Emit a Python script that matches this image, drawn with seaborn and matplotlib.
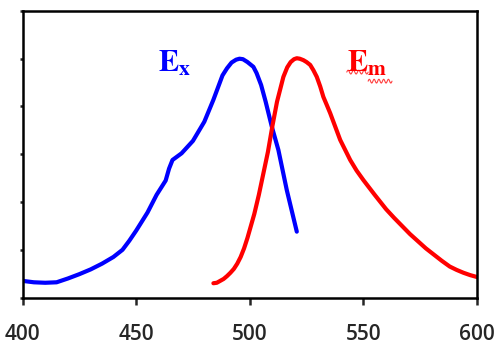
import numpy as np
import pandas as pd
import matplotlib
matplotlib.use('Agg')
import matplotlib.pyplot as plt
import seaborn as sns

# excitation spectrum (blue)
ex_wl = [400, 405, 410, 415, 420, 425, 430, 435, 440, 444, 447, 450, 455, 459, 461, 463, 464.5, 466,
         468, 470, 475, 480, 484, 488, 490, 492, 494, 495.5, 497, 499, 501.6, 503, 505, 507,
         509.7, 512.6, 516.3, 520.7]
ex_int = [0.35, 0.32, 0.31, 0.32, 0.40, 0.49, 0.59, 0.71, 0.85, 1.0, 1.19, 1.40, 1.78, 2.15, 2.30, 2.45, 2.70, 2.88,
          2.95, 3.02, 3.28, 3.68, 4.14, 4.65, 4.80, 4.92, 4.98, 5.0, 4.99, 4.93, 4.83, 4.70, 4.45, 4.10,
          3.58, 3.09, 2.25, 1.38]

# emission spectrum (red)
em_wl = [484, 485.5, 487, 488.5, 490, 491.5, 493, 494.5, 496, 497.5, 499, 500.5, 502, 504, 506, 508, 510,
         512, 514.8, 516.5, 518, 519.5, 520.7, 522, 523.6, 525, 526.6, 528, 529.5, 531, 532.4, 534,
         535.4, 539.8, 544.2, 547, 550, 555, 560, 563.5, 567, 570.5, 574, 577.5, 581, 584.5, 588,
         591, 594, 597, 600]
em_int = [0.30, 0.31, 0.35, 0.39, 0.45, 0.52, 0.60, 0.71, 0.85, 1.03, 1.25, 1.50, 1.75, 2.15, 2.6, 3.05, 3.6,
          4.1, 4.62, 4.82, 4.93, 4.99, 5.01, 5.0, 4.97, 4.93, 4.87, 4.76, 4.62, 4.42, 4.2, 4.02,
          3.86, 3.3, 2.88, 2.66, 2.46, 2.15, 1.85, 1.67, 1.5, 1.33, 1.18, 1.03, 0.9, 0.77, 0.65,
          0.58, 0.52, 0.47, 0.43]

x_ticks = [400, 450, 500, 550, 600]

sns.set_style('ticks')
plt.rcParams['mathtext.fontset'] = 'stix'

fig = plt.figure(figsize=(5, 3.53), dpi=100)
ax = fig.add_axes([0.045, 0.157, 0.909, 0.812])

df_ex = pd.DataFrame({'wl': ex_wl, 'val': ex_int})
df_em = pd.DataFrame({'wl': em_wl, 'val': em_int})
sns.lineplot(data=df_ex, x='wl', y='val', color='#0000ff', lw=3, ax=ax,
             solid_joinstyle='round', solid_capstyle='round')
sns.lineplot(data=df_em, x='wl', y='val', color='#ff0000', lw=3, ax=ax,
             solid_joinstyle='round', solid_capstyle='round')

ax.set_xlim(400, 600)
ax.set_ylim(0, 6)
ax.set_xticks(x_ticks)
ax.set_xticklabels([str(t) for t in x_ticks], fontsize=15, family='Open Sans', weight='semibold')
ax.set_yticks(range(0, 7))
ax.set_yticklabels([])
ax.tick_params(axis='x', direction='out', length=5, width=1.8, pad=14)
ax.tick_params(axis='y', direction='out', length=2.5, width=1.8)
ax.set_xlabel('')
ax.set_ylabel('')
for s in ax.spines.values():
    s.set_linewidth(1.8)
    s.set_color('black')

ax.text(459.6, 4.72, r'$\mathbf{E}_{\mathbf{x}}$', color='#0000ff', fontsize=22, ha='left', va='baseline')
ax.text(542.9, 4.72, r'$\mathbf{E}_{\mathbf{m}}$', color='#ff0000', fontsize=22, ha='left', va='baseline')

# spell-check squiggle under "Em"
t = np.linspace(0, 1, 60)
ax.plot(542.7 + 9.4 * t, 4.72 + 0.04 * np.sin(t * 2 * np.pi * 4), color='#ff4040', lw=0.8)
ax.plot(552.1 + 10.5 * t, 4.53 + 0.04 * np.sin(t * 2 * np.pi * 5), color='#ff4040', lw=0.8)

fig.savefig('out.png', dpi=100)
